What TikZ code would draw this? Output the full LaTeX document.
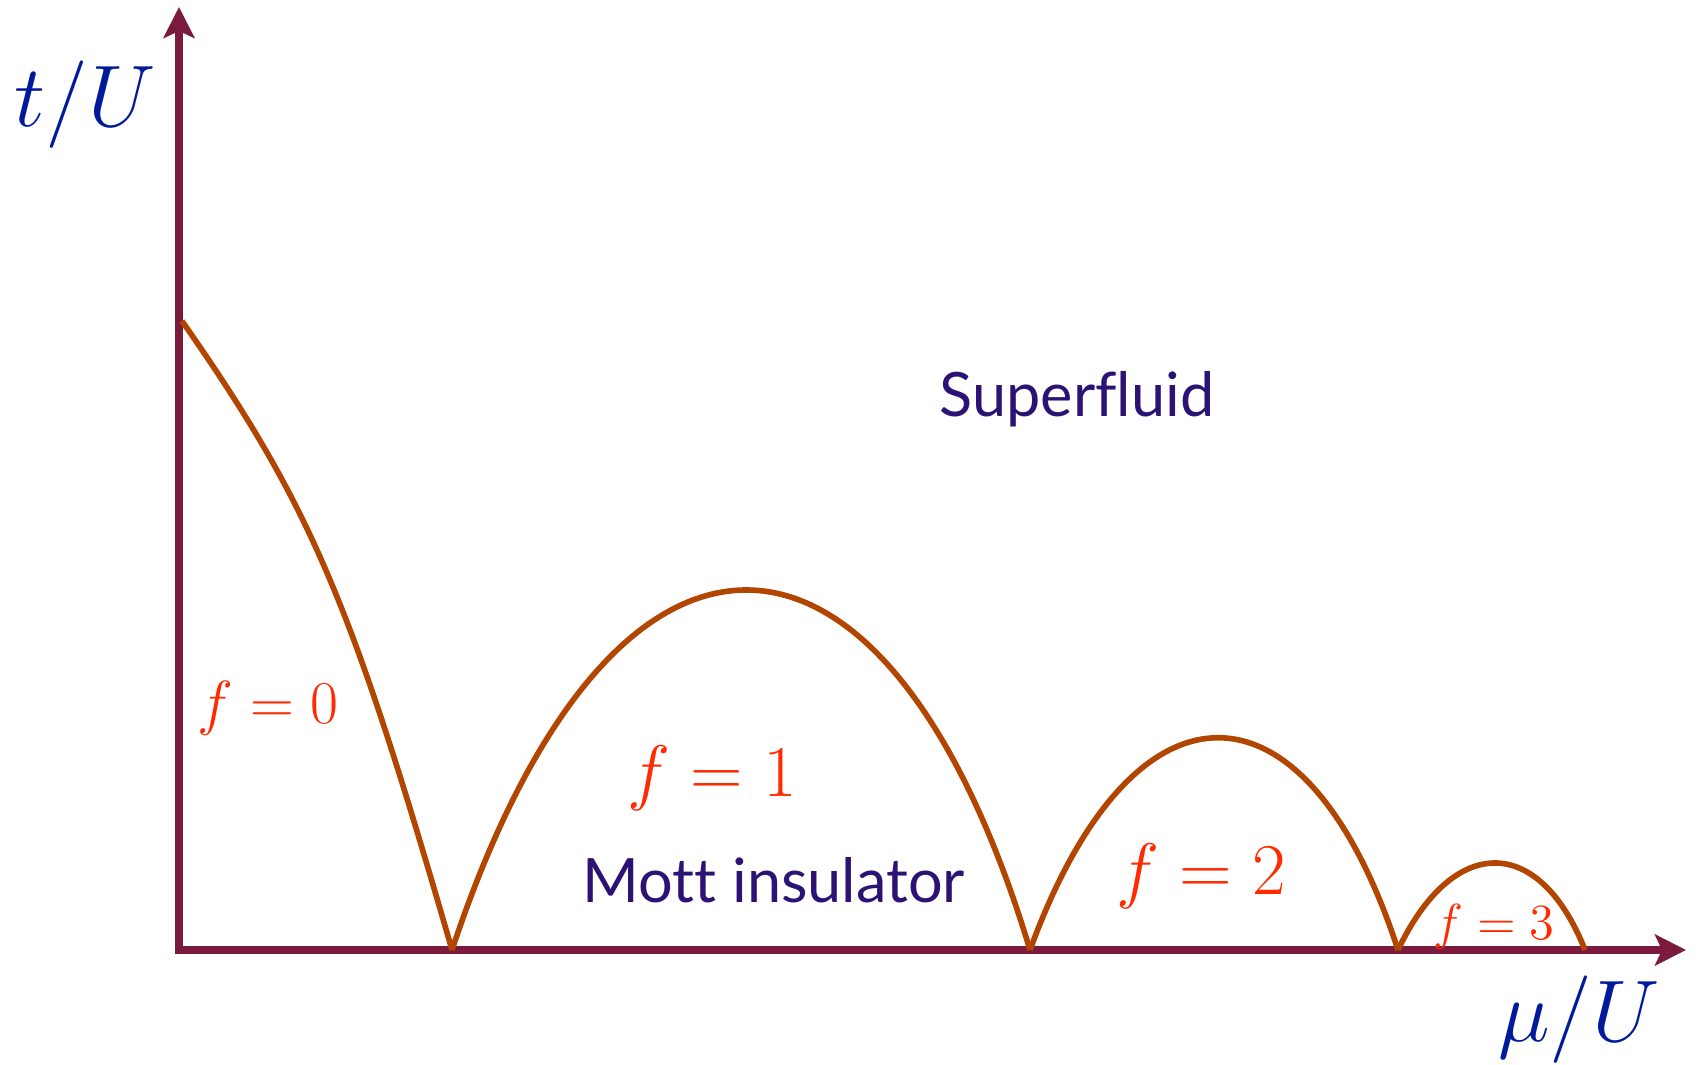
\documentclass[tikz,border=0pt]{standalone}
\usepackage[no-math]{fontspec}
\usepackage{amsmath}
\usetikzlibrary{arrows.meta}
\newfontfamily\phasefont[Ligatures=NoCommon]{Lato}
\definecolor{axisred}{HTML}{7A1A3C}
\definecolor{lobebrown}{HTML}{B24600}
\definecolor{fillred}{HTML}{FF2A00}
\definecolor{axisblue}{HTML}{001A9C}
\definecolor{phaseindigo}{HTML}{2C1274}

\begin{document}
\begin{tikzpicture}[x=0.01cm, y=-0.01cm,
  axis/.style={line width=2.2pt, color=axisred, {Stealth[length=3.1mm, width=3.1mm, inset=0.7mm]}-{Stealth[length=3.1mm, width=3.1mm, inset=0.7mm]}},
  lobe/.style={line width=1.6pt, color=lobebrown},
  flabel/.style={text=fillred, inner sep=0pt, anchor=base},
  phase/.style={text=phaseindigo, font=\phasefont\fontsize{17.4}{20}\selectfont, inner sep=0pt, anchor=base west},
  axlabel/.style={text=axisblue, font=\fontsize{25}{28}\selectfont, inner sep=0pt, anchor=base}
]
\useasboundingbox (0,0) rectangle (1697,1065);

% --- axes ------------------------------------------------------------------
\coordinate (o)    at (179,950);
\coordinate (ytop) at (179,7);
\coordinate (xend) at (1686,950);
\draw[axis] (ytop) -- (o) -- (xend);

\node[axlabel] (tU)  at (85,127)   {$t/U$};
\node[axlabel] (muU) at (1579,1042) {$\mu/U$};

% --- Mott lobes --------------------------------------------------------------
\coordinate (c0) at (182,321);
\coordinate (c1) at (452,950);
\coordinate (c2) at (1030,950);
\coordinate (c3) at (1398,950);
\coordinate (c4) at (1585,950);

\draw[lobe] (c0) .. controls (309,503) and (350,597) .. (c1);
\draw[lobe] (c1) .. controls (611,470) and (885,470) .. (c2);
\draw[lobe] (c2) .. controls (1133,667) and (1306,667) .. (c3);
\draw[lobe] (c3) .. controls (1453,834) and (1539,834) .. (c4);

\node[flabel, font=\fontsize{16}{18}\selectfont]   (f0) at (268,724)  {$f=0$};
\node[flabel, font=\fontsize{19.4}{22}\selectfont] (f1) at (712,797)  {$f=1$};
\node[flabel, font=\fontsize{19.4}{22}\selectfont] (f2) at (1201,895) {$f=2$};
\node[flabel, font=\fontsize{15.5}{17}\selectfont] (f3) at (1494,940) {$f=3$};

% --- phases ------------------------------------------------------------------
\node[phase] (sf)   at (939,417) {Superfluid};
\node[phase] (mott) at (582,903) {Mott insulator};

\end{tikzpicture}
\end{document}
